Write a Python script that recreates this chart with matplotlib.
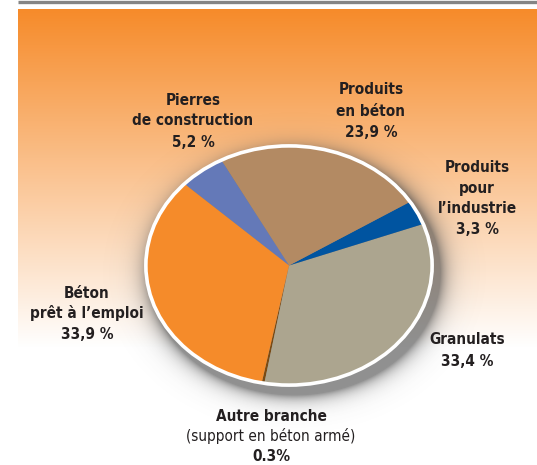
import numpy as np
import matplotlib
matplotlib.use("Agg")
import matplotlib.pyplot as plt
from matplotlib.patches import Circle
from matplotlib import font_manager as fm

# data, counter-clockwise from the bottom
names = ["Autre branche", "Granulats", "Produits pour l'industrie",
         "Produits en béton", "Pierres de construction", "Béton prêt à l'emploi"]
shares = [0.3, 33.4, 3.3, 23.9, 5.2, 33.9]
colors = ["#7a4a12", "#aca58f", "#0054a0", "#b38a63", "#6479b8", "#f58b2a"]

# pick a narrow font if there is one
fonts = fm.fontManager.ttflist
fnames = {f.name for f in fonts}
stretch = "normal"
fs = 12
if "Liberation Sans Narrow" in fnames:
    fam = ["Liberation Sans Narrow", "DejaVu Sans"]
elif any(f.name == "DejaVu Sans" and f.stretch == "condensed" for f in fonts):
    fam = ["DejaVu Sans"]
    stretch = "condensed"
    fs = 11
else:
    cond = sorted(n for n in fnames if "Condensed" in n or "Narrow" in n)
    if cond:
        fam = [cond[0], "DejaVu Sans"]
    else:
        fam = ["Roboto", "DejaVu Sans"]
        fs = 11

W, H = 537, 465
fig = plt.figure(figsize=(W / 100, H / 100), dpi=100)
ax = fig.add_axes([0, 0, 1, 1])

# orange -> white background box
top = np.array([0.965, 0.545, 0.165])
t = np.linspace(0, 1, 200)[:, None]
grad = top * (1 - t) + np.ones(3) * t
ax.imshow(grad[:, None, :], extent=[18, W, 348, 10], aspect="auto", zorder=0)
ax.plot([18, W], [2, 2], color="#858585", lw=2.4, solid_capstyle="butt", zorder=1)

# pie geometry (pixels)
cx, cy, a, b = 289, 265.5, 146, 122

# soft shadow, bottom right
xx, yy = np.meshgrid(np.arange(W), np.arange(H))
r = np.sqrt(((xx - cx - 5) / a) ** 2 + ((yy - cy - 7) / b) ** 2)
d = np.clip((r - 1) * 130, 0, None)
alpha = 0.62 * np.exp(-d / 8)
sh = np.zeros((H, W, 4))
sh[..., :3] = 0.3
sh[..., 3] = alpha
ax.imshow(sh, extent=[0, W, H, 0], aspect="auto", zorder=2)
ax.set_xlim(0, W)
ax.set_ylim(H, 0)
ax.axis("off")

pax = fig.add_axes([(cx - a) / W, (H - cy - b) / H, 2 * a / W, 2 * b / H])
pax.pie(shares, colors=colors, startangle=259, counterclock=True,
        wedgeprops=dict(linewidth=0))
pax.add_patch(Circle((0, 0), 1, fill=False, ec="white", lw=2.6))
pax.set_aspect("auto")
pax.set_xlim(-1.02, 1.02)
pax.set_ylim(-1.02, 1.02)
pax.axis("off")

tc = "#231f20"


def lbl(x, ys, lines, weights=None):
    for i, (y, s) in enumerate(zip(ys, lines)):
        w = "bold" if weights is None else weights[i]
        ax.text(x, y, s, ha="center", va="center", fontsize=fs, family=fam,
                fontstretch=stretch, fontweight=w, color=tc, zorder=5)


lbl(193, [100, 120, 142], ["Pierres", "de construction", "5,2 %"])
lbl(371, [90, 111, 132], ["Produits", "en béton", "23,9 %"])
lbl(477, [167, 188, 208, 229], ["Produits", "pour", "l\u2019industrie", "3,3 %"])
lbl(467, [339, 361], ["Granulats", "33,4 %"])
lbl(87, [293, 313, 334], ["Béton", "prêt à l\u2019emploi", "33,9 %"])
lbl(271, [416, 436, 456], ["Autre branche", "(support en béton armé)", "0.3%"],
    ["bold", "normal", "bold"])

fig.savefig("out.png", dpi=100)
